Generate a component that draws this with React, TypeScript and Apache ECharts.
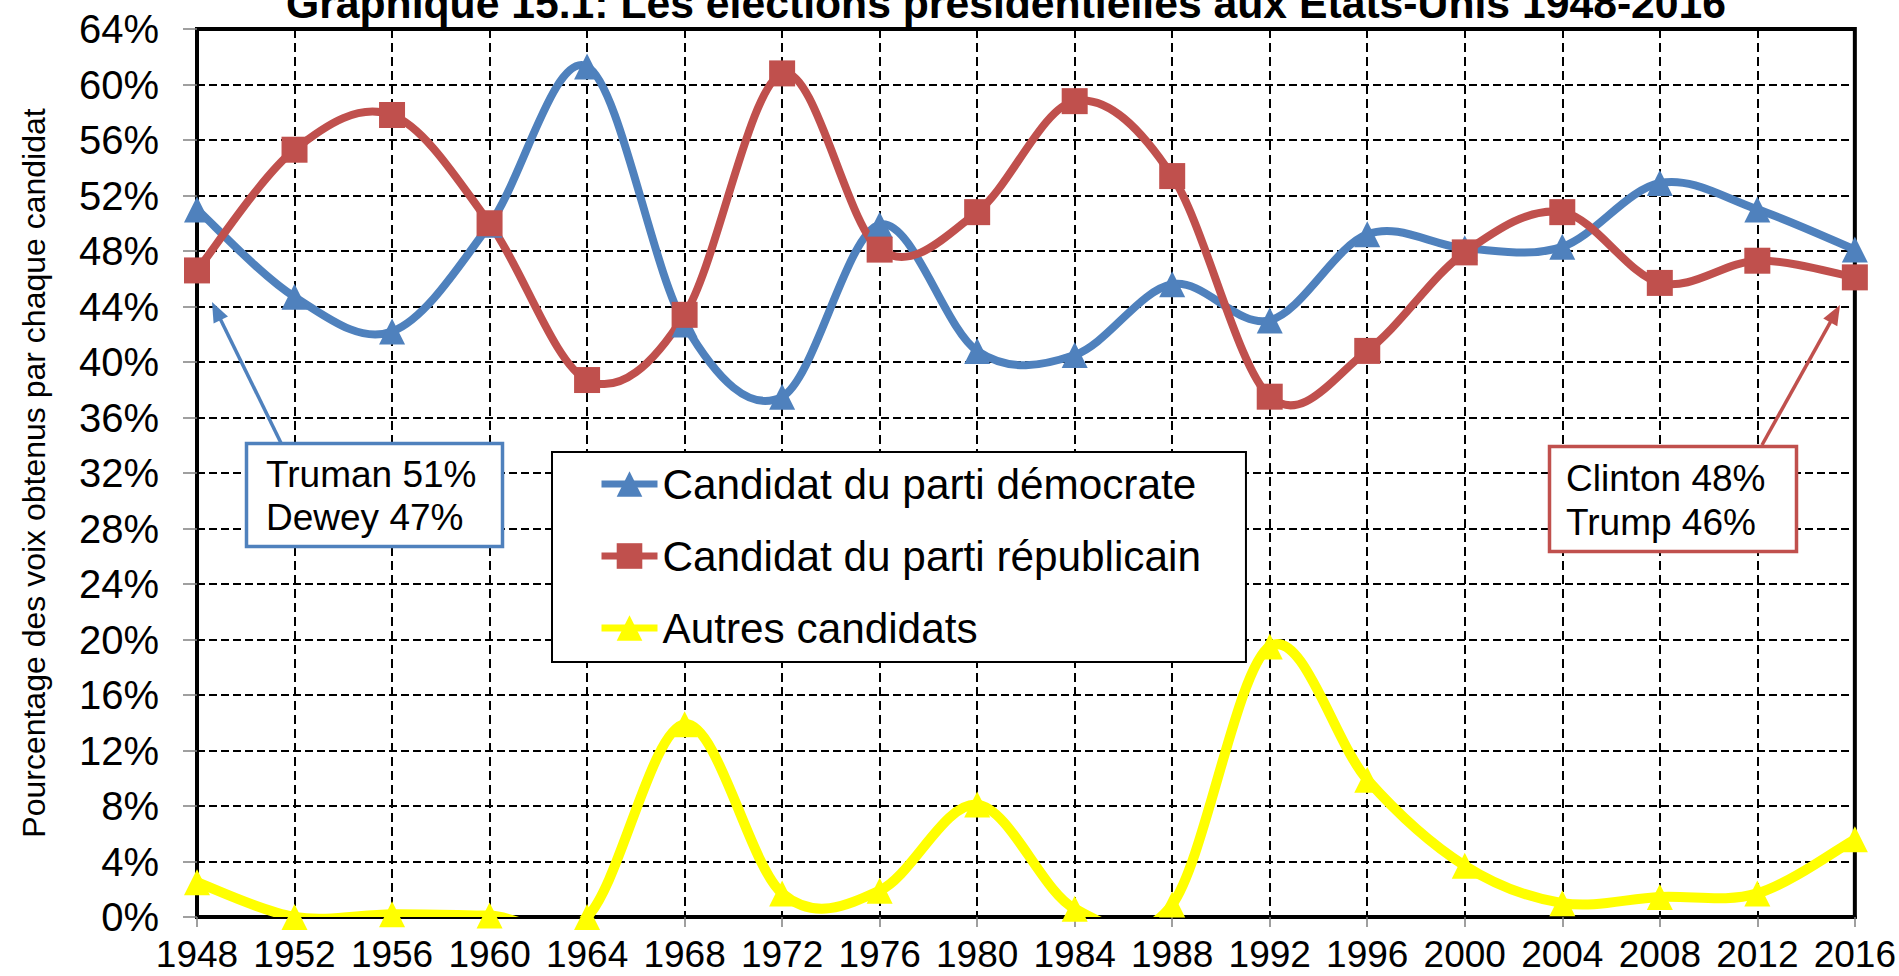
import React, { useEffect, useRef } from "react";
import * as echarts from "echarts";

const years = ["1948", "1952", "1956", "1960", "1964", "1968", "1972", "1976", "1980", "1984", "1988", "1992", "1996", "2000", "2004", "2008", "2012", "2016"];
const democrat = [51.0, 44.7, 42.2, 49.9, 61.3, 42.7, 37.5, 49.9, 40.8, 40.5, 45.6, 43.0, 49.2, 48.2, 48.3, 52.9, 51.0, 48.1];
const republican = [46.6, 55.3, 57.8, 50.0, 38.7, 43.4, 60.8, 48.1, 50.8, 58.8, 53.4, 37.5, 40.8, 47.9, 50.8, 45.7, 47.3, 46.1];
const others = [2.5, 0, 0.2, 0.1, 0, 13.9, 1.7, 1.9, 8.1, 0.6, 0.9, 19.5, 9.9, 3.7, 1.0, 1.45, 1.7, 5.6];
const seriesNames = ["Candidat du parti démocrate", "Candidat du parti républicain", "Autres candidats"];
const yTicks = { min: 0, max: 64, interval: 4 };
const titleText = "Graphique 15.1: Les élections présidentielles aux États-Unis 1948-2016";
const yAxisTitle = "Pourcentage des voix obtenus par chaque candidat";
const noteLeft = ["Truman 51%", "Dewey 47%"];
const noteRight = ["Clinton 48%", "Trump 46%"];

const BLUE = "#4F81BD";
const RED = "#C0504D";
const YELLOW = "#FFFF00";
const FONT = '"Liberation Sans", Arial, sans-serif';

function arrow(x1: number, y1: number, x2: number, y2: number, color: string) {
  const dx = x2 - x1;
  const dy = y2 - y1;
  const len = Math.sqrt(dx * dx + dy * dy);
  const ux = dx / len;
  const uy = dy / len;
  const hl = 20;
  const hw = 8;
  const bx = x2 - ux * hl;
  const by = y2 - uy * hl;
  return [
    {
      type: "line",
      z: 100,
      shape: { x1, y1, x2: bx + ux * 2, y2: by + uy * 2 },
      style: { stroke: color, lineWidth: 3.5 },
    },
    {
      type: "polygon",
      z: 100,
      shape: {
        points: [
          [x2, y2],
          [bx - uy * hw, by + ux * hw],
          [bx + uy * hw, by - ux * hw],
        ],
      },
      style: { fill: color },
    },
  ];
}

function noteBox(x: number, y: number, w: number, h: number, color: string, lines: string[], tx: number, ty: number[]) {
  const els: any[] = [
    {
      type: "rect",
      z: 100,
      shape: { x, y, width: w, height: h },
      style: { fill: "#fff", stroke: color, lineWidth: 3.5 },
    },
  ];
  lines.forEach((t, i) => {
    els.push({
      type: "text",
      z: 101,
      x: tx,
      y: ty[i],
      style: { text: t, fontSize: 37, fontFamily: FONT, fill: "#000", align: "left", verticalAlign: "middle" },
    });
  });
  return els;
}

// Excel-like smoothed curve (Catmull-Rom through the data points), drawn via the axes' own scales
function curve(id: string, arr: number[], color: string, width: number) {
  const n = arr.length;
  return {
    id,
    name: id,
    type: "custom",
    clip: true,
    silent: true,
    data: arr.slice(0, n - 1).map((v, i) => [i, v]),
    encode: { x: 0, y: 1 },
    renderItem: (params: any, api: any) => {
      const i = params.dataIndex;
      const P = (j: number) => {
        const k = Math.max(0, Math.min(n - 1, j));
        return api.coord([k, arr[k]]);
      };
      const p0 = P(i - 1);
      const p1 = P(i);
      const p2 = P(i + 1);
      const p3 = P(i + 2);
      return {
        type: "bezierCurve",
        shape: {
          x1: p1[0],
          y1: p1[1],
          x2: p2[0],
          y2: p2[1],
          cpx1: p1[0] + (p2[0] - p0[0]) / 6,
          cpy1: p1[1] + (p2[1] - p0[1]) / 6,
          cpx2: p2[0] - (p3[0] - p1[0]) / 6,
          cpy2: p2[1] - (p3[1] - p1[1]) / 6,
        },
        style: { stroke: color, lineWidth: width, fill: null, lineCap: "round" },
      };
    },
  };
}

export default function App() {
  const ref = useRef<HTMLDivElement>(null);
  useEffect(() => {
    const chart = echarts.init(ref.current!, null, { renderer: "svg" });
    const marks = (name: string, data: number[], color: string, symbol: string, size: number) => ({
      name,
      type: "line",
      data,
      symbol,
      symbolSize: size,
      showSymbol: true,
      clip: true,
      lineStyle: { color, width: 0, opacity: 0 },
      itemStyle: { color },
      emphasis: { disabled: true },
    });
    const option: any = {
      animation: false,
      backgroundColor: "#fff",
      grid: {
        left: 197,
        right: 42,
        top: 29,
        bottom: 59,
        show: true,
        borderColor: "#000",
        borderWidth: 4,
        backgroundColor: "transparent",
      },
      legend: {
        orient: "vertical",
        left: 552,
        top: 452,
        itemWidth: 56,
        itemHeight: 32,
        itemGap: 30,
        padding: [11, 45, 13, 46],
        backgroundColor: "#fff",
        borderColor: "#000",
        borderWidth: 2,
        lineStyle: { width: 7, opacity: 1 },
        textStyle: { fontSize: 42.3, color: "#000", fontFamily: FONT },
        data: seriesNames,
        z: 90,
      },
      xAxis: {
        type: "category",
        data: years,
        boundaryGap: false,
        axisLine: { show: true, lineStyle: { color: "#000", width: 4 } },
        axisTick: { show: true, interval: 0, length: 10, lineStyle: { color: "#7f7f7f", width: 1.5 } },
        axisLabel: { interval: 0, fontSize: 37, lineHeight: 30, color: "#000", margin: 22, fontFamily: FONT },
        splitLine: { show: true, interval: 0, lineStyle: { color: "#000", width: 2, type: [9, 5] } },
      },
      yAxis: {
        type: "value",
        min: yTicks.min,
        max: yTicks.max,
        interval: yTicks.interval,
        name: yAxisTitle,
        nameLocation: "middle",
        nameGap: 147,
        nameTextStyle: { fontSize: 32, color: "#000", fontFamily: FONT },
        axisLine: { show: true, lineStyle: { color: "#000", width: 4 } },
        axisTick: { show: true, length: 14, lineStyle: { color: "#7f7f7f", width: 1.5 } },
        axisLabel: { formatter: "{value}%", fontSize: 40, color: "#000", margin: 38, fontFamily: FONT },
        splitLine: { show: true, lineStyle: { color: "#000", width: 2, type: [8, 4] } },
      },
      series: [
        curve("curve-dem", democrat, BLUE, 8),
        marks(seriesNames[0], democrat, BLUE, "triangle", 26),
        curve("curve-rep", republican, RED, 8),
        marks(seriesNames[1], republican, RED, "rect", 26),
        curve("curve-oth", others, YELLOW, 10),
        marks(seriesNames[2], others, YELLOW, "triangle", 26),
      ],
      graphic: [
        {
          type: "text",
          x: 1006,
          y: 3,
          z: 100,
          style: {
            text: titleText,
            fontSize: 42.7,
            fontWeight: "bold",
            fontFamily: FONT,
            fill: "#000",
            align: "center",
            verticalAlign: "middle",
          },
        },
        ...arrow(281, 443, 212, 302, BLUE),
        ...noteBox(246.5, 443.5, 256, 103, BLUE, noteLeft, 266, [474, 517.5]),
        ...arrow(1762, 445, 1840, 305, RED),
        ...noteBox(1549.5, 446.5, 247, 105, RED, noteRight, 1566, [478, 522]),
      ],
    };
    chart.setOption(option);
    return () => chart.dispose();
  }, []);
  return (
    <div
      ref={ref}
      style={{ position: "fixed", left: 0, top: 0, width: 1899, height: 976, background: "#fff" }}
    />
  );
}
